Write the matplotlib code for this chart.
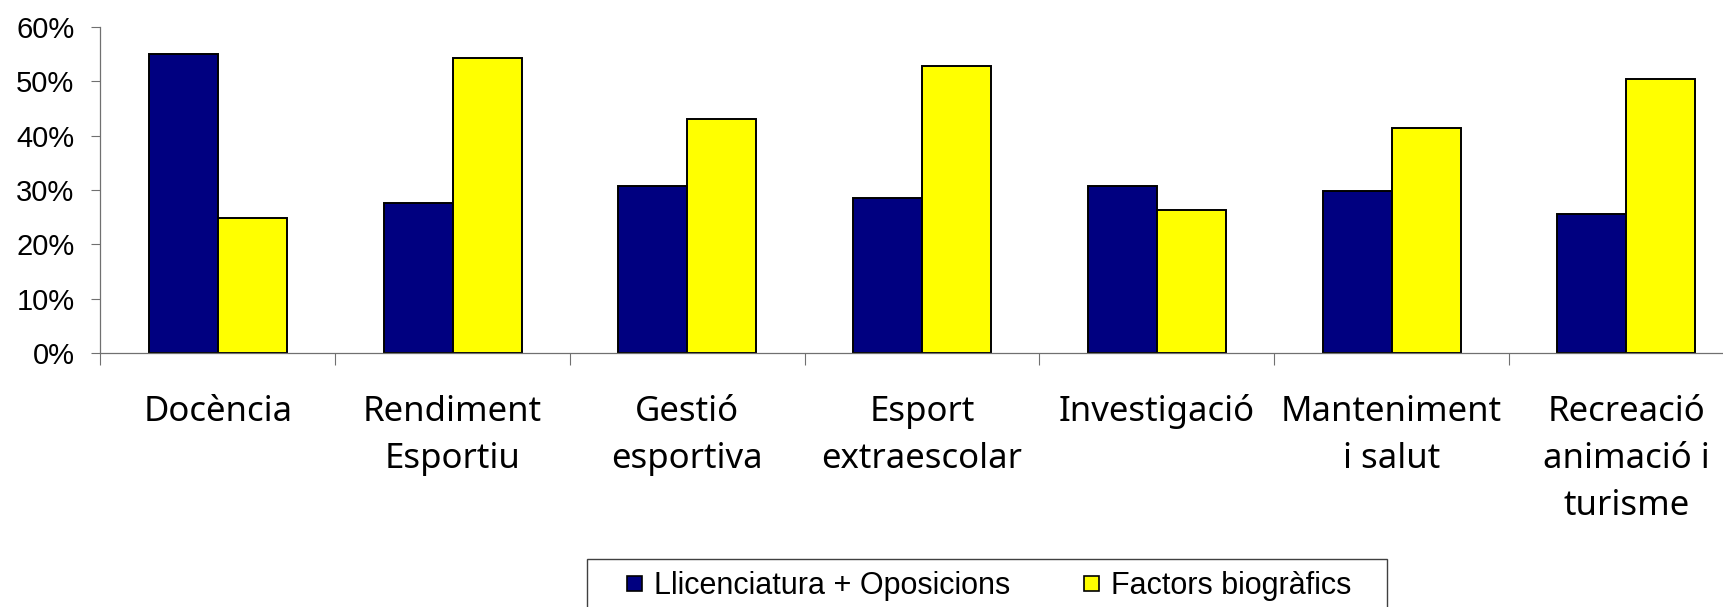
import matplotlib
matplotlib.use("Agg")
from matplotlib import pyplot as plt
from matplotlib.lines import Line2D
from matplotlib.patches import Rectangle
from matplotlib.ticker import PercentFormatter, FixedLocator
from matplotlib.transforms import offset_copy
import numpy as np

# data
categories = ["Docència", "Rendiment\nEsportiu", "Gestió\nesportiva", "Esport\nextraescolar",
              "Investigació", "Manteniment\ni salut", "Recreació\nanimació i\nturisme"]
llicenciatura = [0.549, 0.277, 0.307, 0.285, 0.307, 0.298, 0.255]
factors = [0.249, 0.543, 0.431, 0.527, 0.263, 0.414, 0.504]
series_names = ["Llicenciatura + Oposicions", "Factors biogràfics"]
colors = ["#000080", "#FFFF00"]

W, H = 1724, 607
fig = plt.figure(figsize=(W / 100, H / 100), dpi=100)
ax = fig.add_axes([100.5 / W, 1 - 353.3 / H, 1643.25 / W, (353.3 - 26.7) / H])

x = np.arange(len(categories))
w = 0.294
ax.bar(x - w / 2, llicenciatura, width=w, color=colors[0], edgecolor="black", linewidth=1.4)
ax.bar(x + w / 2, factors, width=w, color=colors[1], edgecolor="black", linewidth=1.4)

ax.set_xlim(-0.5, len(categories) - 0.5)
ax.set_ylim(0, 0.6)
ax.set_yticks(np.arange(0, 0.61, 0.1))
ax.yaxis.set_major_formatter(PercentFormatter(1, decimals=0))

# ticks between the groups, no tick labels: category names are drawn line by line below
ax.xaxis.set_major_locator(FixedLocator(np.arange(-0.5, len(categories), 1.0)))
ax.set_xticklabels([])
ax.tick_params(axis="x", length=8.4, width=0.8, color="#707070")
ax.tick_params(axis="y", length=6.3, width=0.8, color="#707070", pad=12.5,
               labelsize=21, labelfontfamily="Liberation Sans")

# every line on the same baseline grid (Excel style), 67 px below the axis, 47 px apart
for i, name in enumerate(categories):
    for k, line in enumerate(name.split("\n")):
        tr = offset_copy(ax.get_xaxis_transform(), fig=fig, y=-(67.4 + 47.2 * k), units="dots")
        ax.text(x[i], 0, line, transform=tr, ha="center", va="baseline",
                fontsize=25, family="Noto Sans", clip_on=False)

for s in ["top", "right"]:
    ax.spines[s].set_visible(False)
for s in ["left", "bottom"]:
    ax.spines[s].set_color("#707070")
    ax.spines[s].set_linewidth(0.9)

# legend at the bottom, partly cut off like the original
handles = [Line2D([], [], marker="s", ls="", markersize=10.8, markerfacecolor=c,
                  markeredgecolor="black", markeredgewidth=1.2) for c in colors]
fig.legend(handles, series_names, loc="upper left",
           bbox_to_anchor=(626.7 / W, 1 - 571 / H), ncol=2, frameon=False,
           borderpad=0, borderaxespad=0, handlelength=0.49, handletextpad=0.4,
           columnspacing=2.4, prop={"family": "Liberation Sans", "size": 22})
fig.patches.append(Rectangle((586.7 / W, -0.1), 800 / W, 0.1 + 1 - 559 / H,
                             transform=fig.transFigure, fill=False,
                             edgecolor="#404040", linewidth=1.0))

fig.savefig("out.png", dpi=100)
